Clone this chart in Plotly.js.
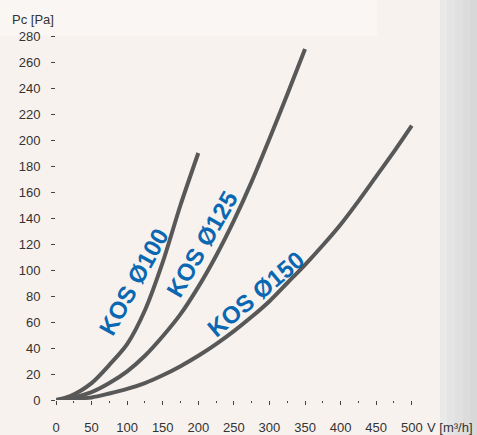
<!DOCTYPE html>
<html>
<head>
<meta charset="utf-8">
<script src="https://cdn.plot.ly/plotly-3.0.1.min.js"></script>
<style>
html,body{margin:0;padding:0;background:#f8f2ee;}
#chart{width:477px;height:435px;}
</style>
</head>
<body>
<div id="chart"></div>
<script>
// Series names
const seriesNames = ['KOS Ø100', 'KOS Ø125', 'KOS Ø150'];
// Airflow V [m3/h]
const v100 = [0, 20, 50, 75, 100, 125, 150, 175, 200];
const v125 = [0, 25, 50, 75, 100, 125, 150, 175, 200, 225, 250, 275, 300, 325, 350];
const v150 = [0, 25, 50, 75, 100, 125, 150, 175, 200, 225, 250, 275, 300, 325, 350, 375, 400, 425, 450, 475, 500];
// Pressure loss Pc [Pa]
const p100 = [0, 3, 13, 27, 43, 69, 106, 150, 190];
const p125 = [0, 2, 6, 13, 22, 34, 49, 66, 87, 111, 138, 168, 201, 235, 270];
const p150 = [0, 1, 2, 5, 8.5, 13, 19, 26, 34, 43, 53, 64, 76, 90, 104, 119, 135, 153, 172, 191, 211];
// Tick labels
const xTicks = [0, 50, 100, 150, 200, 250, 300, 350, 400, 450, 500];
const yTicks = [0, 20, 40, 60, 80, 100, 120, 140, 160, 180, 200, 220, 240, 260, 280];

const lineColor = '#585858';
const labelColor = '#0a67b2';
const font = 'Liberation Sans, Arial, sans-serif';

function tr(x, y, name) {
  return {
    x: x, y: y, name: name, type: 'scatter', mode: 'lines',
    line: {color: lineColor, width: 4, shape: 'spline', smoothing: 0.8},
    cliponaxis: false, hoverinfo: 'skip'
  };
}

const data = [
  tr(v100, p100, seriesNames[0]),
  tr(v125, p125, seriesNames[1]),
  tr(v150, p150, seriesNames[2])
];

function band(x0, x1, color) {
  return {type: 'rect', xref: 'paper', yref: 'paper', layer: 'below',
    x0: x0, x1: x1, y0: -1, y1: 2, line: {width: 0}, fillcolor: color};
}
// paper coords: plot area from px 56 to 426 (width 370), top 23 to 400 (height 377)
const px = p => (p - 56) / 370;
const py = p => (400 - p) / 377;

const layout = {
  width: 477, height: 435,
  margin: {l: 56, r: 51, t: 23, b: 35, pad: 0},
  paper_bgcolor: '#f8f2ee',
  plot_bgcolor: 'rgba(0,0,0,0)',
  showlegend: false,
  font: {family: font, size: 13, color: '#333333'},
  xaxis: {
    range: [0, 520], showgrid: false, zeroline: false, showline: false,
    tickmode: 'array', tickvals: xTicks, ticktext: xTicks.map(String),
    ticks: 'outside', ticklen: 4, tickwidth: 1, tickcolor: '#444',
    ticklabelstandoff: 11,
    minor: {tickvals: [25, 75, 125, 175, 225, 275, 325, 375, 425, 475], ticks: 'outside', ticklen: 2, tickwidth: 1, tickcolor: '#444'},
    tickfont: {family: font, size: 13, color: '#333'},
    fixedrange: true
  },
  yaxis: {
    range: [0, 290], showgrid: false, zeroline: false, showline: false,
    tickmode: 'array', tickvals: yTicks, ticktext: yTicks.map(String),
    ticks: 'outside', ticklen: 4, tickwidth: 1, tickcolor: '#444',
    ticklabelstandoff: 8,
    tickfont: {family: font, size: 13, color: '#333'},
    fixedrange: true
  },
  shapes: [
    {type: 'rect', xref: 'paper', yref: 'paper', layer: 'below',
      x0: px(-10), x1: px(377), y0: py(36), y1: py(-10), line: {width: 0}, fillcolor: '#faf6f3'},
    band(px(440), px(447), '#e9e9e9'),
    band(px(447), px(455), '#e4e4e4'),
    band(px(455), px(463), '#e0e0e0'),
    band(px(463), px(470), '#dcdcdc'),
    band(px(470), px(480), '#d8d8d8')
  ],
  annotations: [
    {text: seriesNames[0], x: 109.6, y: 91, xref: 'x', yref: 'y', showarrow: false,
      textangle: -61, font: {family: font, size: 24, color: labelColor, weight: 'bold'}},
    {text: seriesNames[1], x: 204.5, y: 120, xref: 'x', yref: 'y', showarrow: false,
      textangle: -60, font: {family: font, size: 24, color: labelColor, weight: 'bold'}},
    {text: seriesNames[2], x: 279.7, y: 81.5, xref: 'x', yref: 'y', showarrow: false,
      textangle: -40, font: {family: font, size: 24, color: labelColor, weight: 'bold'}},
    {text: 'Pc [Pa]', x: px(10), y: py(19), xref: 'paper', yref: 'paper', xanchor: 'left', yanchor: 'middle',
      showarrow: false, font: {family: font, size: 13, color: '#333'}},
    {text: 'V [m³/h]', x: px(475), y: py(427), xref: 'paper', yref: 'paper', xanchor: 'right', yanchor: 'middle',
      showarrow: false, font: {family: font, size: 13, color: '#333'}}
  ]
};

Plotly.newPlot('chart', data, layout, {staticPlot: true, displayModeBar: false});
</script>
</body>
</html>
